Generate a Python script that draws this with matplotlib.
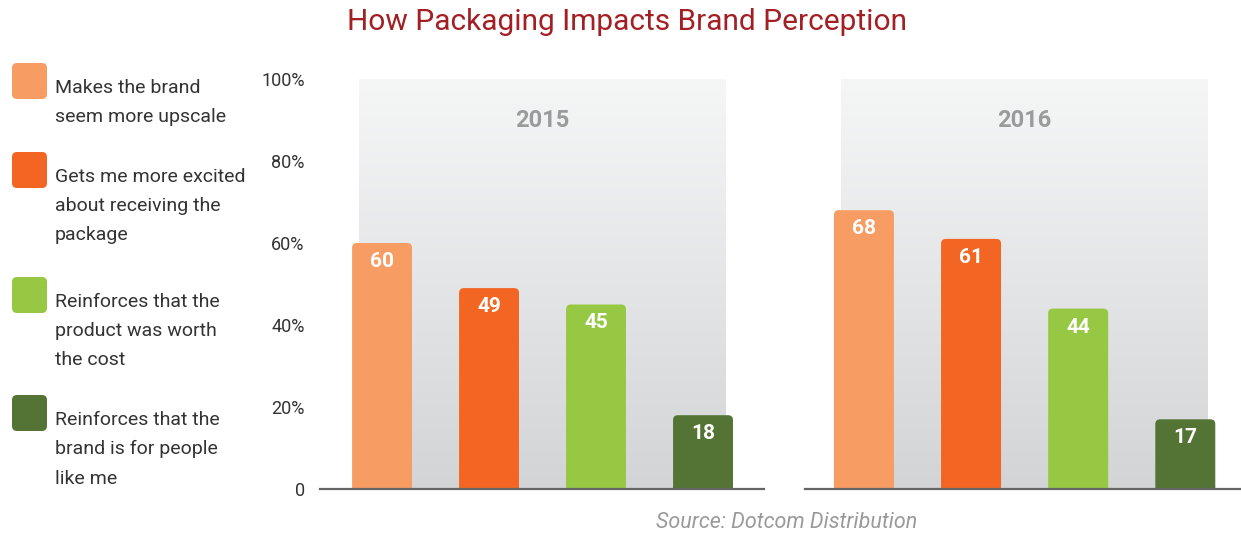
import matplotlib.pyplot as plt
from matplotlib.patches import FancyBboxPatch
from matplotlib.colors import LinearSegmentedColormap
import numpy as np

years = ["2015", "2016"]
categories = ["Makes the brand\nseem more upscale",
              "Gets me more excited\nabout receiving the\npackage",
              "Reinforces that the\nproduct was worth\nthe cost",
              "Reinforces that the\nbrand is for people\nlike me"]
values_2015 = [60, 49, 45, 18]
values_2016 = [68, 61, 44, 17]
colors = ["#f79c63", "#f26522", "#96c844", "#537434"]
yticks = [0, 20, 40, 60, 80, 100]
ytick_labels = ["0", "20%", "40%", "60%", "80%", "100%"]

W, H = 1241, 534
fig = plt.figure(figsize=(W / 100, H / 100), dpi=100)
plt.rcParams['font.family'] = ['Roboto', 'DejaVu Sans']

grad = np.linspace(0, 1, 256).reshape(-1, 1)
cmap = LinearSegmentedColormap.from_list("bg", ["#d3d4d6", "#f5f6f6"])


def draw_group(ax, vals, year, px_per_unit_x):
    x = np.arange(len(vals))
    ax.set_ylim(0, 100)
    # gradient panel behind the bars
    ax.imshow(grad, extent=(-0.215, 3.21, 0, 100), origin="lower",
              cmap=cmap, aspect="auto", zorder=0)
    bars = ax.bar(x, [v + 3 for v in vals], bottom=-3, width=0.56,
                  color=colors, zorder=2)
    # swap for rounded-top boxes
    aspect = px_per_unit_x / (ax.bbox.height / 100)
    for b, c in zip(bars, colors):
        b.set_visible(False)
        p = FancyBboxPatch((b.get_x(), b.get_y()), b.get_width(), b.get_height(),
                           boxstyle="round,pad=0,rounding_size=0.045",
                           mutation_aspect=aspect, fc=c, ec="none", zorder=2)
        ax.add_patch(p)
    for xi, v in zip(x, vals):
        ax.text(xi, v - 4.5, str(v), ha="center", va="center", color="white",
                fontsize=15, fontweight="bold", zorder=3)
    ax.text(1.5, 90, year, ha="center", va="center", color="#9a9b9e",
            fontsize=17, fontweight="bold", zorder=3)
    for s in ["top", "right", "left"]:
        ax.spines[s].set_visible(False)
    ax.spines["bottom"].set_color("#666666")
    ax.spines["bottom"].set_linewidth(1.6)
    ax.set_xticks([])


bottom = 1 - 489 / H
height = (489 - 79) / H

ax1 = fig.add_axes([320 / W, bottom, (764 - 320) / W, height])
ax1.set_xlim(-0.58, 3.57)
draw_group(ax1, values_2015, years[0], (764 - 320) / 4.15)
ax1.set_yticks(yticks)
ax1.set_yticklabels(ytick_labels, fontsize=13, color="#333333")
ax1.tick_params(axis="y", length=0, pad=11)

ax2 = fig.add_axes([805 / W, bottom, (W - 805) / W, height])
ax2.set_xlim(-0.55, 3.52)
ax2.set_yticks([])
draw_group(ax2, values_2016, years[1], (W - 805) / 4.07)

# overlay in pixel coordinates for legend, title and source
ov = fig.add_axes([0, 0, 1, 1], zorder=-1)
ov.set_xlim(0, W)
ov.set_ylim(H, 0)
ov.axis("off")

sq_top = [63, 152, 277, 395]
for top, c, lab in zip(sq_top, colors, categories):
    ov.add_patch(FancyBboxPatch((12, top), 35, 36,
                                boxstyle="round,pad=0,rounding_size=5",
                                fc=c, ec="none"))
    ov.text(55, top + 16, lab, ha="left", va="top",
            fontsize=14, color="#333333", linespacing=1.8)

ov.text(627, 22, "How Packaging Impacts Brand Perception", ha="center",
        va="center", fontsize=21.5, color="#a31f24")
ov.text(787, 522, "Source: Dotcom Distribution", ha="center", va="center",
        fontsize=15.5, color="#9a9a9a", style="italic")

fig.savefig("out.png", dpi=100)
